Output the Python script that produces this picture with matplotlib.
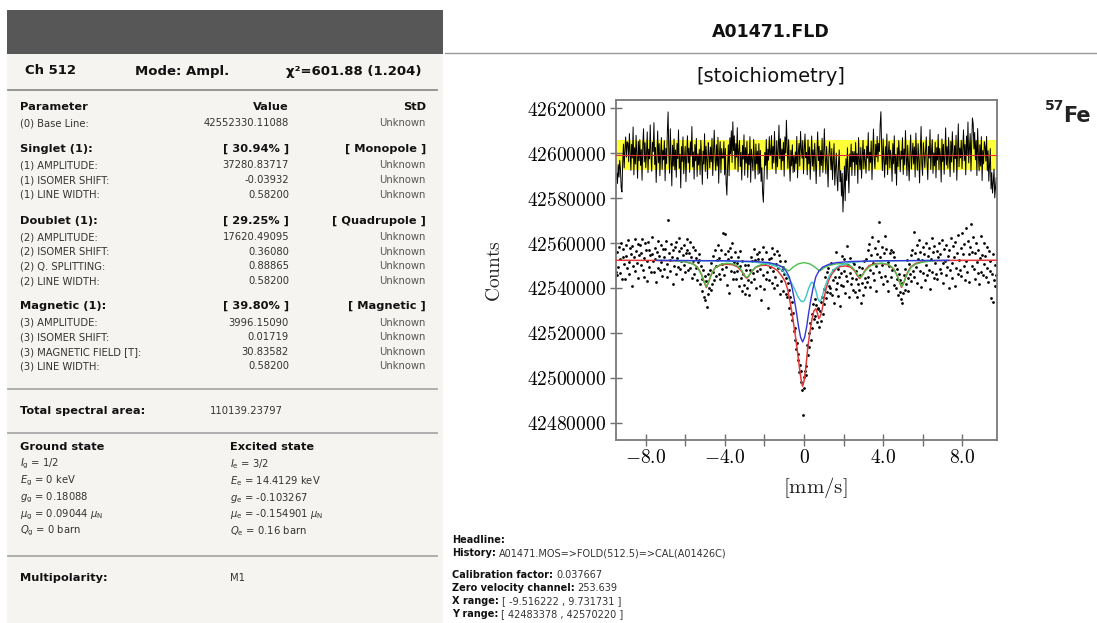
import numpy as np
import matplotlib
matplotlib.use("Agg")
import matplotlib.pyplot as plt
from matplotlib.patches import Rectangle
from matplotlib.lines import Line2D

plt.rcParams["font.family"] = ["DejaVu Sans"]
plt.rcParams["mathtext.fontset"] = "cm"

# ---- fit summary (left panel) ----
header_items = ["Ch 512", "Mode: Ampl.", "χ²=601.88 (1.204)"]
group_titles = ["Parameter", "Singlet (1):", "Doublet (1):", "Magnetic (1):"]
group_values = ["Value", "[ 30.94% ]", "[ 29.25% ]", "[ 39.80% ]"]
group_kinds = ["StD", "[ Monopole ]", "[ Quadrupole ]", "[ Magnetic ]"]
group_rows = [
    [("(0) Base Line:", "42552330.11088")],
    [("(1) AMPLITUDE:", "37280.83717"), ("(1) ISOMER SHIFT:", "-0.03932"),
     ("(1) LINE WIDTH:", "0.58200")],
    [("(2) AMPLITUDE:", "17620.49095"), ("(2) ISOMER SHIFT:", "0.36080"),
     ("(2) Q. SPLITTING:", "0.88865"), ("(2) LINE WIDTH:", "0.58200")],
    [("(3) AMPLITUDE:", "3996.15090"), ("(3) ISOMER SHIFT:", "0.01719"),
     ("(3) MAGNETIC FIELD [T]:", "30.83582"), ("(3) LINE WIDTH:", "0.58200")],
]
std_text = "Unknown"
total_area = "110139.23797"
ground_state = [r"$I_{\mathrm{g}}$ = 1/2", r"$E_{\mathrm{g}}$ = 0 keV", r"$g_{\mathrm{g}}$ = 0.18088",
                r"$\mu_{\mathrm{g}}$ = 0.09044 $\mu_{\mathrm{N}}$", r"$Q_{\mathrm{g}}$ = 0 barn"]
excited_state = [r"$I_{\mathrm{e}}$ = 3/2", r"$E_{\mathrm{e}}$ = 14.4129 keV", r"$g_{\mathrm{e}}$ = -0.103267",
                 r"$\mu_{\mathrm{e}}$ = -0.154901 $\mu_{\mathrm{N}}$", r"$Q_{\mathrm{e}}$ = 0.16 barn"]
multipolarity = "M1"

info_labels = ["Headline:", "History:", "Calibration factor:", "Zero velocity channel:",
               "X range:", "Y range:"]
info_values = ["", "A01471.MOS=>FOLD(512.5)=>CAL(A01426C)", "0.037667", "253.639",
               "[ -9.516222 , 9.731731 ]", "[ 42483378 , 42570220 ]"]

# ---- spectrum ----
calibration = 0.037667      # mm/s per channel
zero_channel = 253.639
residual_zero = 42599100
sigma_band = 6520

# measured counts, thousands above 42 500 000 (one value per channel)
counts_k = [
    47.1, 45.8, 55.9, 49.3, 58.2, 46.5, 52.8, 60.1, 44.2, 53.7, 57.4, 50.6, 43.9, 59.3, 54.1, 48.8,
    61.2, 51.5, 46.3, 57.8, 55.0, 40.9, 58.6, 49.7, 53.9, 62.0, 47.4, 56.3, 51.1, 59.5, 44.6, 54.8,
    58.9, 50.2, 55.7, 61.6, 48.1, 53.4, 45.0, 59.9, 56.8, 43.3, 52.0, 60.4, 49.5, 57.1, 54.5, 47.0,
    55.3, 62.8, 51.8, 46.9, 58.0, 53.0, 42.7, 56.1, 60.7, 49.0, 54.2, 47.8, 59.0, 51.4, 45.5, 57.5,
    53.6, 48.4, 57.2, 61.0, 50.8, 44.8, 70.2, 55.6, 52.4, 47.6, 59.7, 54.0, 41.8, 56.9, 50.0, 58.4,
    46.0, 60.3, 53.2, 49.2, 56.4, 62.3, 48.6, 51.9, 57.8, 44.0, 54.7, 59.2, 50.4, 47.3, 55.5, 61.8,
    57.1, 47.9, 55.4, 60.6, 49.0, 53.8, 44.6, 58.3, 52.1, 46.2, 56.9, 48.7, 53.2, 43.4, 51.6, 55.0,
    52.3, 41.6, 49.8, 44.0, 38.7, 47.9, 36.2, 45.5, 34.8, 42.9, 31.4, 46.3, 37.5, 40.0, 48.1, 39.2,
    51.0, 41.8, 54.2, 47.0, 43.5, 56.7, 49.9, 45.2, 52.6, 58.9, 46.0, 53.3, 44.1, 57.0, 50.6, 48.3,
    64.6, 45.7, 55.1, 63.9, 49.2, 41.5, 56.3, 52.7, 37.9, 58.0, 47.4, 53.6, 60.2, 43.8, 51.5, 46.9,
    55.8, 43.9, 51.2, 47.6, 53.9, 40.7, 49.8, 56.5, 44.5, 38.6, 52.1, 46.0, 41.3, 50.4, 37.2, 47.9,
    40.1, 50.3, 43.7, 36.9, 48.2, 54.0, 42.6, 51.8, 46.5, 57.3, 44.0, 52.5, 39.8, 55.2, 47.7, 53.0,
    55.9, 41.0, 48.6, 34.6, 53.1, 45.8, 58.2, 39.5, 50.9, 44.2, 56.0, 47.1, 31.2, 52.7, 43.6, 49.3,
    53.5, 42.3, 58.0, 47.6, 39.9, 55.3, 44.8, 50.7, 56.4, 41.2, 48.9, 54.6, 37.3, 52.0, 43.1, 47.8,
    49.5, 38.7, 46.1, 51.9, 37.4, 44.6, 35.8, 42.0, 31.3, 39.1, 36.0, 28.4, 33.9, 25.6, 29.0, 20.7,
    16.9, 22.4, 12.8, 15.6, 7.9, 10.7, 2.6, 5.8, -1.9, 3.1, -5.3, -16.6, 0.4, -4.4, 2.9, 1.5,
    5.2, 14.6, 10.1, 19.8, 13.7, 24.4, 17.0, 28.5, 22.1, 33.0, 26.3, 35.1, 27.7, 32.4, 24.9, 30.6,
    31.2, 22.5, 29.9, 33.8, 25.1, 36.2, 28.4, 39.7, 33.0, 44.9, 35.6, 47.3, 38.2, 49.0, 41.1, 37.8,
    40.2, 51.3, 36.8, 43.7, 47.9, 33.4, 45.0, 39.6, 55.8, 42.1, 36.3, 48.4, 44.9, 31.8, 46.7, 41.5,
    54.1, 40.9, 47.5, 52.8, 37.7, 45.4, 58.6, 43.0, 50.2, 35.9, 46.8, 53.4, 41.7, 44.3, 39.1, 51.6,
    50.5, 38.4, 43.9, 47.6, 36.1, 41.8, 49.2, 38.9, 45.7, 33.5, 42.4, 48.8, 37.0, 51.9, 44.3, 40.6,
    53.0, 42.5, 56.7, 45.1, 59.4, 48.0, 40.3, 54.8, 62.5, 46.6, 51.2, 43.4, 57.9, 49.6, 38.7, 55.3,
    60.8, 47.2, 69.5, 53.6, 44.9, 58.1, 50.3, 41.6, 55.7, 62.9, 45.3, 57.2, 43.0, 51.4, 38.5, 49.7,
    55.4, 44.7, 56.8, 47.9, 55.9, 41.3, 53.7, 50.1, 39.8, 48.6, 44.2, 36.7, 46.0, 38.3, 43.5, 35.0,
    33.2, 42.4, 37.6, 45.9, 39.0, 48.3, 41.7, 52.5, 44.4, 38.8, 50.7, 46.1, 54.6, 43.2, 57.1, 47.5,
    64.7, 44.9, 55.6, 49.3, 59.1, 42.0, 53.0, 61.5, 47.4, 56.2, 40.6, 52.4, 58.4, 46.8, 55.0, 43.7,
    50.3, 60.0, 45.6, 54.3, 48.2, 57.6, 39.4, 52.9, 62.2, 47.0, 55.8, 44.3, 58.7, 51.0, 46.4, 56.6,
    43.8, 53.6, 59.8, 48.5, 55.1, 46.7, 61.4, 50.9, 42.4, 57.3, 52.2, 45.9, 58.9, 49.4, 54.4, 40.2,
    56.9, 47.8, 62.1, 51.3, 44.5, 58.5, 53.7, 41.1, 60.6, 49.1, 55.7, 46.3, 63.4, 52.6, 48.0, 57.7,
    45.2, 64.3, 54.9, 50.0, 59.6, 43.7, 66.8, 52.0, 47.0, 61.0, 55.3, 42.8, 58.2, 68.4, 49.8, 56.0,
    62.6, 48.4, 55.6, 44.1, 59.9, 51.7, 46.5, 57.0, 41.9, 53.5, 63.1, 47.3, 54.8, 45.6, 60.2, 50.5,
    54.1, 44.8, 58.3, 49.0, 42.6, 56.5, 47.6, 52.2, 35.6, 46.4, 33.8, 55.0, 43.5, 50.3, 41.0, 45.7,
]

# residual (data - fit), thousands of counts
residual_k = [
    -10.9, -7.9, -12.6, -4.2, -9.8, -2.3, -6.5, -14.6, -16.4, -3.4, 4.9, -5.7, 2.5, 8.1, -0.9, 5.9,
    5.3, -3.0, 9.6, 1.2, -6.8, 4.8, -1.3, 12.5, -8.8, 3.3, -4.0, 8.8, 0.0, -10.3, 6.1, -2.5,
    6.9, -4.6, 2.5, -11.2, 4.4, 11.7, -3.1, 5.5, -5.6, 1.0, 10.3, -7.8, 2.7, -1.7, 13.4, -0.1,
    -7.2, 5.7, 1.6, 14.4, -4.2, 3.4, -12.2, -0.9, 10.7, -3.4, 5.1, -9.2, 0.8, 7.8, -6.4, 2.2,
    -2.1, 6.4, -11.4, 3.0, -3.9, 10.1, 19.2, 0.3, -8.1, 11.7, -0.5, -13.7, 4.4, -4.9, 7.2, -6.6,
    2.3, -9.9, 5.2, -1.6, 11.2, -5.9, 0.4, -14.6, 3.8, -2.9, 8.1, -8.3, -1.2, 3.9, -11.8, 0.0,
    8.6, -3.5, 3.1, -7.7, 5.9, -0.4, 12.7, -5.3, 1.4, -10.7, 4.7, -2.6, 7.4, -9.5, 0.5, -4.4,
    2.6, -8.7, 6.6, -1.0, -13.0, 1.8, -4.0, 9.5, -7.3, 4.0, -2.0, -10.4, 5.5, 0.9, -5.7, 3.6,
    -3.0, 7.5, -9.1, 1.3, 11.1, -1.4, -6.9, 4.6, -4.8, 7.9, -12.5, 0.1, 6.0, -7.9, 2.9, -1.3,
    -1.3, 6.0, -8.8, 2.9, -12.4, -17.8, -4.4, 4.6, -9.2, 7.7, 0.5, 10.8, -3.3, 14.8, 2.0, 8.6,
    -6.2, 5.1, -0.9, 12.2, -7.4, 2.1, 6.5, -5.1, 1.2, -11.1, 4.3, -1.8, 9.0, -9.0, 3.3, -3.6,
    6.1, -10.0, 0.4, -4.3, 8.2, -12.1, 2.6, -2.1, -7.0, 7.0, -1.3, -10.5, 4.9, -3.9, 1.7, -8.6,
    5.1, -8.1, 2.1, -11.7, -5.6, -16.4, -21.0, -10.0, 1.2, -4.6, 7.0, -10.7, 2.7, -2.3, 8.2, -0.3,
    0.3, 8.7, -6.0, 3.9, -3.5, 10.5, -0.7, -8.2, 6.4, -5.2, 2.1, 13.3, -1.6, 7.3, -6.5, 2.7,
    -2.6, 5.7, -9.4, 8.1, 0.9, 15.5, 3.8, -5.9, 6.9, -2.7, -11.6, 2.2, -4.8, 4.6, -7.8, -0.3,
    -7.3, 1.4, -3.8, 8.3, -10.1, 0.8, 5.2, -4.9, 10.5, 3.0, -1.4, 6.5, -8.3, 2.2, 9.4, -1.2,
    1.2, -8.8, 6.8, -3.9, 3.6, -10.8, -1.2, 8.5, -4.9, 2.3, -7.2, 5.2, -1.7, -12.7, 0.5, 10.3,
    -2.5, 3.9, -9.5, 2.0, -4.6, 7.5, -7.7, 0.4, 11.7, -1.3, -8.3, 3.8, -3.4, -14.2, -0.5, 6.0,
    -0.4, -6.6, 2.9, -10.9, -2.1, 5.1, -13.4, -6.0, 0.9, -9.8, -15.9, -3.8, 2.3, -11.8, -6.9, -18.2,
    -8.1, -25.3, -15.3, -4.9, -20.3, -1.6, -11.3, 3.3, -7.7, -16.8, 0.5, -5.2, 4.9, -9.1, 1.6, -3.0,
    1.6, -9.1, 5.6, -4.2, 0.7, -12.6, 7.8, -2.2, -6.5, 3.4, -10.3, -0.7, 6.6, -6.1, 2.5, -2.7,
    -8.1, 4.0, -1.3, 10.0, -7.0, 1.3, -3.3, 6.2, -10.9, 0.1, 11.6, -1.8, -6.0, 4.8, -0.8, 8.3,
    -3.0, 5.2, 1.7, 13.5, 19.3, 2.9, -6.9, 7.2, -2.6, -9.9, 3.8, -4.2, 9.4, -8.7, 0.8, 6.1,
    -5.7, 2.2, -1.4, -11.7, 5.1, -3.9, 8.6, -8.2, 0.3, -13.4, 3.3, -5.1, 6.5, -0.9, -7.4, 1.8,
    -1.8, 7.7, -8.6, 2.7, -4.4, 10.9, -0.4, -9.2, 4.4, -3.3, -11.4, 1.4, 9.0, -6.2, 0.0, 5.3,
    -4.0, 3.6, -9.8, 9.8, -1.0, -6.8, 5.1, -2.0, -12.4, 2.6, 12.7, -3.8, -9.0, 5.6, 0.8, -5.5,
    2.1, 8.1, -3.4, -10.9, 3.9, -1.3, 11.3, -6.4, 1.6, 6.9, -8.1, 1.0, -4.8, 5.7, -10.1, 3.3,
    -2.2, 9.2, -6.6, 3.0, -0.3, -12.0, 7.2, -2.9, 4.8, -8.5, 0.1, 12.1, -4.4, 3.8, -5.9, 7.8,
    -0.8, -9.6, 6.1, -3.1, 10.4, 0.5, -7.7, 4.2, -1.6, 8.8, -11.2, 2.0, 13.9, -5.2, 3.1, -1.2,
    6.6, -6.0, 2.3, 11.2, -2.5, 4.7, -8.8, 8.5, 0.0, 14.7, -3.5, 3.5, 9.6, -7.2, 5.5, 16.5,
    14.0, 2.7, 10.1, -2.1, 6.5, -9.1, 11.8, 0.4, -7.0, 4.6, -4.9, 8.2, -11.3, 2.1, -3.9, 5.9,
    3.9, -2.7, 8.3, -7.0, 2.0, -11.6, -4.8, 2.9, -15.1, -7.8, -16.9, -12.1, -6.2, -19.0, -14.6, -10.0,
]

# fitted curves (velocity mm/s, counts)
total_v = [-9.52, -7.5, -6.5, -6.0, -5.6, -5.4, -5.2, -5.05, -4.94, -4.83, -4.68, -4.5, -4.2, -3.9,
           -3.6, -3.35, -3.15, -3.0, -2.9, -2.8, -2.65, -2.45, -2.2, -1.9, -1.6, -1.35, -1.13,
           -0.95, -0.83, -0.7, -0.6, -0.5, -0.42, -0.3, -0.2, -0.12, -0.07, 0.0, 0.08, 0.19, 0.3,
           0.4, 0.5, 0.6, 0.67, 0.75, 0.83, 0.92, 1.02, 1.12, 1.25, 1.4, 1.6, 1.85, 2.1, 2.35,
           2.55, 2.7, 2.82, 2.94, 3.1, 3.3, 3.6, 3.95, 4.3, 4.55, 4.72, 4.85, 4.94, 5.05, 5.2, 5.4,
           5.65, 6.0, 6.6, 7.5, 9.73]
total_counts = [42552330, 42552250, 42552050, 42551700, 42550700, 42549300, 42546300, 42542600,
                42540200, 42542600, 42546300, 42549000, 42550300, 42550600, 42550300, 42549300,
                42547300, 42545200, 42544300, 42545200, 42547300, 42549200, 42550000, 42550100,
                42549200, 42547800, 42545400, 42542800, 42539600, 42533500, 42528500, 42522500,
                42517700, 42509500, 42502500, 42497800, 42496300, 42498500, 42503500, 42513300,
                42520500, 42526000, 42529800, 42530800, 42529000, 42526400, 42527500, 42530500,
                42535500, 42539800, 42543500, 42546100, 42548400, 42549600, 42549800, 42549300,
                42547800, 42545500, 42544200, 42545500, 42548000, 42550000, 42550800, 42550900,
                42550200, 42548400, 42545500, 42542300, 42540300, 42542300, 42546200, 42549300,
                42550900, 42551700, 42552100, 42552280, 42552330]

singlet_v = [-7.44, -4.0, -2.5, -1.8, -1.4, -1.1, -0.9, -0.75, -0.6, -0.48, -0.37, -0.27, -0.17,
             -0.07, 0.03, 0.13, 0.23, 0.34, 0.46, 0.6, 0.75, 0.95, 1.25, 1.65, 2.4, 4.0, 7.34]
singlet_counts = [42552300, 42552100, 42551800, 42551300, 42550500, 42549300, 42547500, 42545000,
                  42540000, 42534500, 42528500, 42522500, 42518000, 42516000, 42518000, 42522500,
                  42528500, 42534500, 42540000, 42545000, 42547500, 42549300, 42550500, 42551300,
                  42551800, 42552100, 42552300]

doublet_v = [-7.44, -4.0, -2.5, -1.8, -1.4, -1.1, -0.85, -0.65, -0.45, -0.3, -0.17, -0.08, 0.01,
             0.12, 0.24, 0.36, 0.42, 0.5, 0.6, 0.7, 0.8, 0.9, 1.0, 1.12, 1.28, 1.5, 1.8, 2.3, 3.0,
             4.5, 7.34]
doublet_counts = [42552250, 42552000, 42551500, 42550700, 42549600, 42547900, 42545500, 42542600,
                  42539000, 42536000, 42534300, 42533900, 42534300, 42536600, 42540000, 42542300,
                  42542600, 42541800, 42538800, 42535200, 42533900, 42535200, 42538800, 42542000,
                  42545400, 42548200, 42550000, 42551300, 42551800, 42552100, 42552250]

sextet_v = [-6.6, -6.0, -5.6, -5.4, -5.2, -5.05, -4.94, -4.83, -4.68, -4.5, -4.2, -3.9, -3.6, -3.35,
            -3.15, -3.02, -2.9, -2.78, -2.62, -2.4, -2.1, -1.8, -1.5, -1.2, -1.0, -0.88, -0.78,
            -0.68, -0.55, -0.3, 0.0, 0.3, 0.55, 0.7, 0.8, 0.9, 1.02, 1.25, 1.55, 1.85, 2.15, 2.4,
            2.58, 2.72, 2.84, 2.96, 3.12, 3.35, 3.65, 3.95, 4.25, 4.5, 4.68, 4.84, 4.95, 5.06,
            5.22, 5.42, 5.65, 6.05, 6.6]
sextet_counts = [42552100, 42551600, 42550600, 42549200, 42546200, 42542700, 42540600, 42542700,
                 42546200, 42549000, 42550600, 42551000, 42550700, 42549800, 42547800, 42545700,
                 42544600, 42545700, 42547800, 42549600, 42550600, 42550900, 42550600, 42549900,
                 42549000, 42548200, 42547600, 42548200, 42549300, 42550700, 42551300, 42550700,
                 42549300, 42548200, 42547600, 42548200, 42549000, 42549900, 42550600, 42550900,
                 42550600, 42549600, 42547800, 42545700, 42544600, 42545700, 42547800, 42549800,
                 42550700, 42551000, 42550600, 42549000, 42546200, 42542700, 42540600, 42542700,
                 42546200, 42549200, 42550600, 42551600, 42552100]

y_ticks = [42480000, 42500000, 42520000, 42540000, 42560000, 42580000, 42600000, 42620000]
x_ticks = [-8, -4, 0, 4, 8]
x_tick_labels = [r"$-8.0$", r"$-4.0$", r"$0$", r"$4.0$", r"$8.0$"]
x_minor = [-6, -2, 2, 6]

W, H = 1097, 623
fig = plt.figure(figsize=(W / 100, H / 100), dpi=100)


def fx(px):
    return px / W


def fy(py):
    return 1 - py / H


def put(x, y, s, size=7.2, weight="normal", ha="left", color="#2a2a2a", **kw):
    return fig.text(fx(x), fy(y), s, fontsize=size, fontweight=weight, ha=ha, va="center",
                    color=color, math_fontfamily="dejavusans", **kw)


def hline(x0, x1, y, color="#a9a9a9", lw=1.3):
    fig.add_artist(Line2D([fx(x0), fx(x1)], [fy(y), fy(y)], color=color, lw=lw))


# left panel background + dark bar
fig.add_artist(Rectangle((fx(7), 0), (443 - 7) / W, fy(54), color="#f5f4f1", lw=0))
fig.add_artist(Rectangle((fx(7), fy(54)), (443 - 7) / W, (54 - 10) / H, color="#575757", lw=0))

put(25, 71, header_items[0], size=9.5, weight="bold", color="#111")
put(135, 71, header_items[1], size=9.5, weight="bold", color="#111")
put(421, 71, header_items[2], size=9.5, weight="bold", ha="right", color="#111")
hline(8, 437, 90, color="#8e8e8e")

group_y = [107, 149, 220.7, 306]
for gy, title, val, kind, rows in zip(group_y, group_titles, group_values, group_kinds, group_rows):
    put(20, gy, title, size=8.2, weight="bold", color="#111")
    put(289, gy, val, size=8.2, weight="bold", ha="right", color="#111")
    put(426, gy, kind, size=8.2, weight="bold", ha="right", color="#111")
    for k, (lab, v) in enumerate(rows):
        ry = gy + 16.5 + 14.6 * k
        put(20, ry, lab, color="#333")
        put(289, ry, v, ha="right", color="#333")
        put(426, ry, std_text, ha="right", color="#555")

hline(8, 437, 388.5)
put(20, 411, "Total spectral area:", size=8.2, weight="bold", color="#111")
put(210, 411, total_area, color="#333")
hline(8, 437, 432.5)

put(20, 447, "Ground state", size=8.2, weight="bold", color="#111")
put(230, 447, "Excited state", size=8.2, weight="bold", color="#111")
for k, (g, e) in enumerate(zip(ground_state, excited_state)):
    sy = 464 + 16.8 * k
    put(20, sy, g, color="#333")
    put(230, sy, e, color="#333")

hline(8, 437, 556)
put(20, 578, "Multipolarity:", size=8.2, weight="bold", color="#111")
put(230, 578, multipolarity, color="#333")

# right header
put(771, 32, "A01471.FLD", size=12.5, weight="bold", ha="center", color="#111")
hline(445, 1097, 53, color="#9a9a9a", lw=1.0)
put(771, 77, "[stoichiometry]", size=14, ha="center", color="#111")
put(1045, 106, "57", size=10, weight="bold", color="#222")
put(1063, 116, "Fe", size=15, weight="bold", color="#222")

# info block under the plot
renderer = fig.canvas.get_renderer()
info_y = [540, 553, 575, 588, 601, 614]
for yy, lab, val in zip(info_y, info_labels, info_values):
    t = put(452, yy, lab, size=7, weight="bold", color="#111")
    if val:
        bb = t.get_window_extent(renderer)
        fig.text((bb.x1 + 3) / W, fy(yy), val, fontsize=7, ha="left", va="center",
                 color="#333")

# spectrum axes
ax = fig.add_axes([fx(616), fy(440), (997 - 616) / W, (440 - 100) / H])
channel = np.arange(1, len(counts_k) + 1)
velocity = (channel - zero_channel) * calibration
counts = 42500000 + 1000 * np.array(counts_k)
res_channel = np.arange(1, len(residual_k) + 1)
res_velocity = (res_channel - zero_channel) * calibration
residual = residual_zero + 1000 * np.array(residual_k)

ax.axhspan(residual_zero - sigma_band, residual_zero + sigma_band, color="#ffff38", lw=0, zorder=1)
ax.plot(res_velocity, residual, color="black", lw=0.7, zorder=2)
ax.axhline(residual_zero, color="#e03030", lw=0.8, zorder=3)

ax.plot(velocity, counts, "o", ms=2.0, mew=0, color="black", zorder=2.5)
ax.plot(total_v, total_counts, color="#e23838", lw=1.1, zorder=3)
ax.plot(sextet_v, sextet_counts, color="#4cbf4c", lw=1.0, zorder=4)
ax.plot(doublet_v, doublet_counts, color="#3cc4c4", lw=1.0, zorder=5)
ax.plot(singlet_v, singlet_counts, color="#3636d8", lw=1.0, zorder=6)

ax.set_xlim(-9.516, 9.77)
ax.set_ylim(42472400, 42623600)
ax.set_yticks(y_ticks)
ax.set_yticklabels([r"$%d$" % t for t in y_ticks])
ax.set_xticks(x_ticks)
ax.set_xticklabels(x_tick_labels)
ax.set_xticks(x_minor, minor=True)
ax.tick_params(axis="x", which="both", direction="inout", length=8, width=1, color="#707070",
               labelsize=14, pad=2)
ax.tick_params(axis="y", direction="inout", length=8, width=1, color="#707070",
               labelsize=14, pad=3)
for s in ax.spines.values():
    s.set_color("#7a7a7a")
    s.set_linewidth(1.3)

fig.text(fx(495), fy(271), r"$\mathrm{Counts}$", fontsize=14, rotation=90, ha="center",
         va="center", color="#222")
fig.text(fx(815), fy(488), r"$[\mathrm{mm/s}]$", fontsize=15, ha="center", va="center",
         color="#222")

fig.savefig("out.png", dpi=100, facecolor="white")
